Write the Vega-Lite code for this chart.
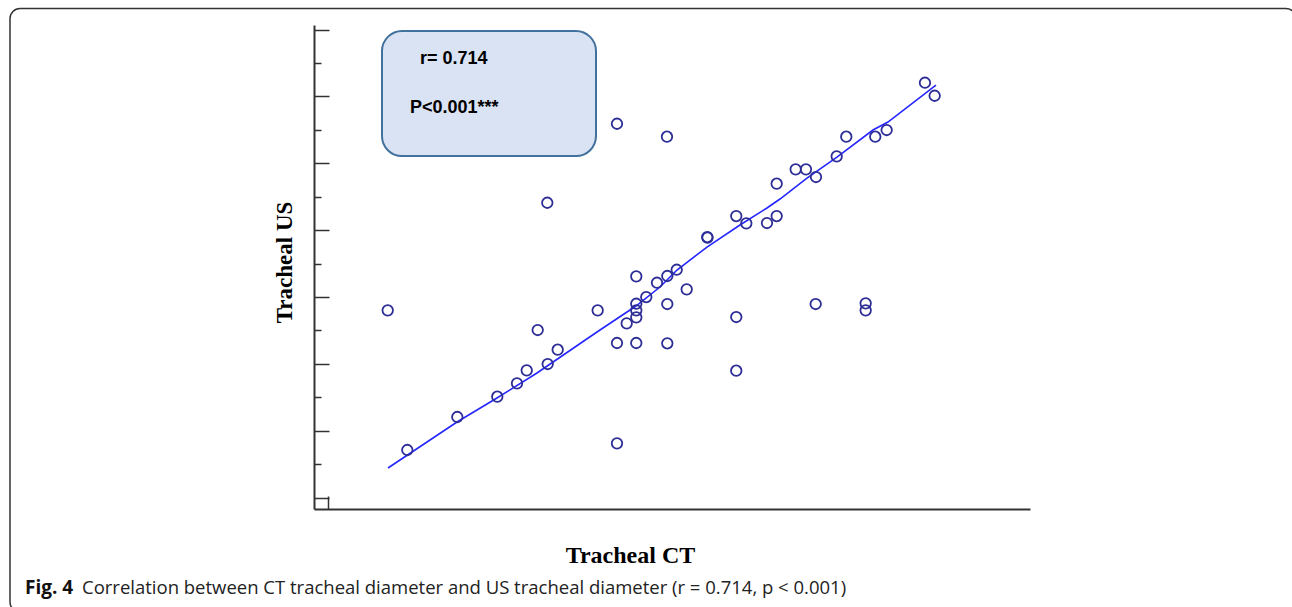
{
  "$schema": "https://vega.github.io/schema/vega-lite/v6.json",
  "width": 716,
  "height": 484,
  "autosize": {"type": "none"},
  "padding": {"left": 314, "top": 25, "right": 262, "bottom": 98},
  "background": "white",
  "config": {"view": {"stroke": null}},
  "datasets": {
    "obs": [
      {"ct": 11.786, "us": 15.600}, {"ct": 12.372, "us": 11.421}, {"ct": 13.868, "us": 12.408},
      {"ct": 15.064, "us": 13.015}, {"ct": 15.654, "us": 13.416}, {"ct": 15.944, "us": 13.805},
      {"ct": 16.273, "us": 15.010}, {"ct": 16.572, "us": 13.993}, {"ct": 16.560, "us": 18.818},
      {"ct": 16.871, "us": 14.421}, {"ct": 18.067, "us": 15.600}, {"ct": 18.645, "us": 21.181},
      {"ct": 18.645, "us": 14.622}, {"ct": 18.645, "us": 11.621}, {"ct": 18.935, "us": 15.211},
      {"ct": 19.222, "us": 16.617}, {"ct": 19.222, "us": 15.797}, {"ct": 19.222, "us": 15.600},
      {"ct": 19.222, "us": 15.390}, {"ct": 19.222, "us": 14.622}, {"ct": 19.521, "us": 15.997},
      {"ct": 19.841, "us": 16.425}, {"ct": 20.150, "us": 16.626}, {"ct": 20.150, "us": 15.788},
      {"ct": 20.150, "us": 14.613}, {"ct": 20.140, "us": 20.793}, {"ct": 20.431, "us": 16.814},
      {"ct": 20.730, "us": 16.228}, {"ct": 21.346, "us": 17.792}, {"ct": 21.352, "us": 17.777},
      {"ct": 22.213, "us": 18.420}, {"ct": 22.213, "us": 15.399}, {"ct": 22.213, "us": 13.793},
      {"ct": 22.513, "us": 18.202}, {"ct": 23.132, "us": 18.211}, {"ct": 23.422, "us": 18.420},
      {"ct": 23.422, "us": 19.387}, {"ct": 23.990, "us": 19.817}, {"ct": 24.298, "us": 19.817},
      {"ct": 24.598, "us": 19.587}, {"ct": 24.589, "us": 15.788}, {"ct": 25.217, "us": 20.206},
      {"ct": 25.504, "us": 20.793}, {"ct": 26.084, "us": 15.809}, {"ct": 26.084, "us": 15.600},
      {"ct": 26.371, "us": 20.793}, {"ct": 26.712, "us": 20.993}, {"ct": 27.858, "us": 22.408},
      {"ct": 28.148, "us": 22.019}
    ],
    "fit": [
      {"ct": 11.795, "us": 10.882}, {"ct": 13.859, "us": 12.258}, {"ct": 15.055, "us": 12.976},
      {"ct": 16.252, "us": 13.724}, {"ct": 18.047, "us": 14.951}, {"ct": 19.213, "us": 15.728},
      {"ct": 19.931, "us": 16.297}, {"ct": 20.440, "us": 16.805}, {"ct": 21.337, "us": 17.493},
      {"ct": 22.324, "us": 18.151}, {"ct": 23.132, "us": 18.660}, {"ct": 23.521, "us": 18.929},
      {"ct": 24.328, "us": 19.557}, {"ct": 25.226, "us": 20.185}, {"ct": 26.303, "us": 20.993},
      {"ct": 26.751, "us": 21.232}, {"ct": 28.187, "us": 22.339}
    ]
  },
  "resolve": {"axis": {"y": "independent"}},
  "layer": [
    {
      "data": {"values": [{}]},
      "mark": {"type": "rect", "fill": "transparent", "stroke": "#333333", "strokeWidth": 1.5, "cornerRadius": 10},
      "encoding": {
        "x": {"datum": 0.487, "type": "quantitative", "scale": {"domain": [9.581, 31.0], "zero": false, "nice": false}},
        "x2": {"datum": 38.956},
        "y": {"datum": 24.629, "type": "quantitative", "scale": {"domain": [9.656, 24.135], "zero": false, "nice": false}, "axis": null},
        "y2": {"datum": 6.575}
      }
    },
    {
      "data": {"values": [{}]},
      "mark": {"type": "rect", "fill": "#dae3f3", "stroke": "#41719c", "strokeWidth": 2, "cornerRadius": 20},
      "encoding": {
        "x": {"datum": 11.615, "type": "quantitative", "scale": {"domain": [9.581, 31.0], "zero": false, "nice": false}},
        "x2": {"datum": 18.017},
        "y": {"datum": 23.954, "type": "quantitative", "scale": {"domain": [9.656, 24.135], "zero": false, "nice": false}, "axis": null},
        "y2": {"datum": 20.215}
      }
    },
    {
      "data": {"values": [{}]},
      "mark": {"type": "text", "text": "r= 0.714", "align": "left", "baseline": "middle", "font": "Liberation Sans", "fontWeight": "bold", "fontSize": 18, "color": "black"},
      "encoding": {
        "x": {"datum": 12.752, "type": "quantitative", "scale": {"domain": [9.581, 31.0], "zero": false, "nice": false}},
        "y": {"datum": 23.118, "type": "quantitative", "scale": {"domain": [9.656, 24.135], "zero": false, "nice": false}, "axis": null}
      }
    },
    {
      "data": {"values": [{}]},
      "mark": {"type": "text", "text": "P<0.001***", "align": "left", "baseline": "middle", "font": "Liberation Sans", "fontWeight": "bold", "fontSize": 18, "color": "black"},
      "encoding": {
        "x": {"datum": 12.453, "type": "quantitative", "scale": {"domain": [9.581, 31.0], "zero": false, "nice": false}},
        "y": {"datum": 21.652, "type": "quantitative", "scale": {"domain": [9.656, 24.135], "zero": false, "nice": false}, "axis": null}
      }
    },
    {
      "data": {"values": [{}]},
      "mark": {"type": "text", "text": "Fig. 4", "align": "left", "baseline": "alphabetic", "font": "Open Sans", "fontWeight": "bold", "fontSize": 19, "color": "#111111"},
      "encoding": {
        "x": {"datum": 0.936, "type": "quantitative", "scale": {"domain": [9.581, 31.0], "zero": false, "nice": false}},
        "y": {"datum": 7.113, "type": "quantitative", "scale": {"domain": [9.656, 24.135], "zero": false, "nice": false}, "axis": null}
      }
    },
    {
      "data": {"values": [{}]},
      "mark": {"type": "text", "text": "Correlation between CT tracheal diameter and US tracheal diameter (r = 0.714, p < 0.001)", "align": "left", "baseline": "alphabetic", "font": "Open Sans", "fontSize": 18.5, "color": "#222222"},
      "encoding": {
        "x": {"datum": 2.641, "type": "quantitative", "scale": {"domain": [9.581, 31.0], "zero": false, "nice": false}},
        "y": {"datum": 7.113, "type": "quantitative", "scale": {"domain": [9.656, 24.135], "zero": false, "nice": false}, "axis": null}
      }
    },
    {
      "data": {"name": "fit"},
      "mark": {"type": "line", "color": "#2626ff", "strokeWidth": 1.6},
      "encoding": {
        "x": {"field": "ct", "type": "quantitative", "scale": {"domain": [9.581, 31.0], "zero": false, "nice": false}},
        "y": {
          "field": "us", "type": "quantitative",
          "scale": {"domain": [9.656, 24.135], "zero": false, "nice": false},
          "axis": {
            "orient": "left", "offset": 0,
            "values": [11, 13, 15, 17, 19, 21, 23],
            "tickSize": -7, "tickWidth": 1.5, "tickColor": "#333333",
            "domain": false, "labels": false, "grid": false, "title": null
          }
        }
      }
    },
    {
      "data": {"name": "obs"},
      "mark": {"type": "point", "shape": "circle", "filled": false, "color": "#2d2d96", "strokeWidth": 1.8, "size": 110, "opacity": 1},
      "encoding": {
        "x": {
          "field": "ct", "type": "quantitative",
          "scale": {"domain": [9.581, 31.0], "zero": false, "nice": false},
          "axis": {
            "values": [10], "tickSize": -13, "tickWidth": 1.5, "tickColor": "#333333",
            "domainColor": "#333333", "domainWidth": 2, "labels": false, "grid": false,
            "title": "Tracheal CT", "titleFont": "Liberation Serif", "titleFontSize": 24, "titleFontWeight": "bold", "titleColor": "#000000",
            "titleX": 316, "titleY": 53, "titleAlign": "center", "titleBaseline": "alphabetic"
          }
        },
        "y": {
          "field": "us", "type": "quantitative",
          "scale": {"domain": [9.656, 24.135], "zero": false, "nice": false},
          "axis": {
            "orient": "left", "offset": 0,
            "values": [10, 12, 14, 16, 18, 20, 22, 24],
            "tickSize": -15, "tickWidth": 1.5, "tickColor": "#333333",
            "domainColor": "#333333", "domainWidth": 2, "labels": false, "grid": false,
            "title": "Tracheal US", "titleFont": "Liberation Serif", "titleFontSize": 23, "titleFontWeight": "bold", "titleColor": "#000000",
            "titleX": -30, "titleY": 237, "titleAngle": -90, "titleAlign": "center", "titleBaseline": "middle"
          }
        }
      }
    }
  ]
}
